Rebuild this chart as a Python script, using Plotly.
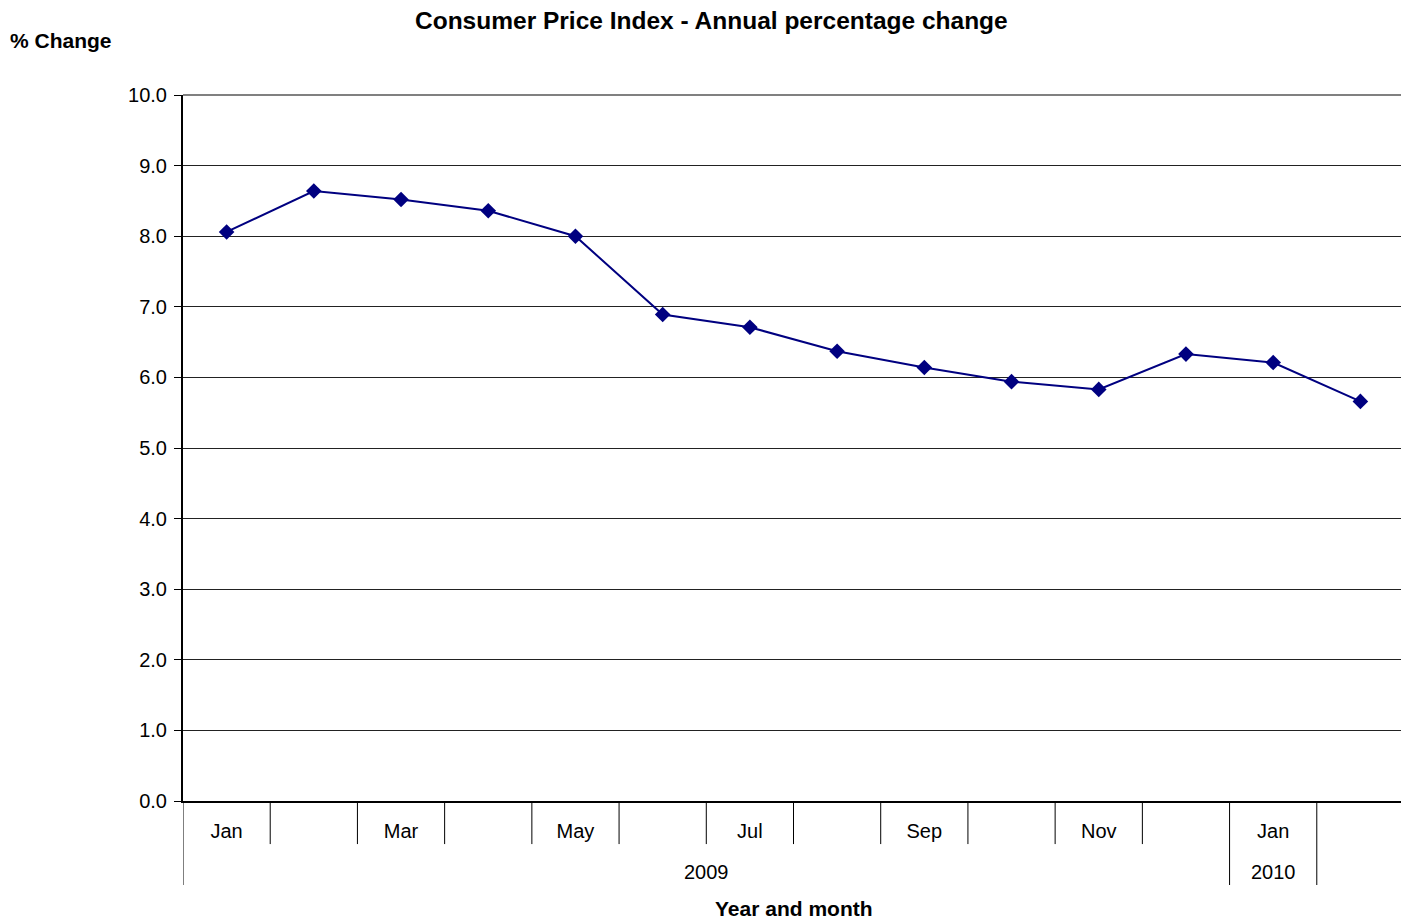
import plotly.graph_objects as go

months = ["Jan", "", "Mar", "", "May", "", "Jul", "", "Sep", "", "Nov", "", "Jan", ""]
full_months = ["Jan 2009", "Feb 2009", "Mar 2009", "Apr 2009", "May 2009", "Jun 2009", "Jul 2009",
               "Aug 2009", "Sep 2009", "Oct 2009", "Nov 2009", "Dec 2009", "Jan 2010", "Feb 2010"]
cpi_change = [8.06, 8.64, 8.52, 8.36, 8.00, 6.89, 6.71, 6.37, 6.14, 5.94, 5.83, 6.33, 6.21, 5.66]
y_ticks = [0, 1, 2, 3, 4, 5, 6, 7, 8, 9, 10]
year_groups = [("2009", 0, 11), ("2010", 12, 12)]
long_dividers = [0, 12, 13, 14]

x_idx = list(range(len(cpi_change)))
FONT = "Liberation Sans, Arial, sans-serif"

fig = go.Figure()
fig.add_trace(go.Scatter(
    x=x_idx, y=cpi_change, mode="lines+markers",
    line=dict(color="#000080", width=2),
    marker=dict(symbol="diamond", size=12, color="#000080"),
    text=full_months, hoverinfo="text+y", showlegend=False,
))

shapes = []
n = len(cpi_change)
for k in range(n + 1):
    y_end = -0.119 if k in long_dividers else -0.061
    shapes.append(dict(type="line", xref="x", yref="paper", x0=k - 0.5, x1=k - 0.5,
                       y0=0, y1=y_end, line=dict(color="black", width=1)))
# top and right border (gray)
shapes.append(dict(type="line", xref="paper", yref="paper", x0=0, x1=1, y0=1, y1=1,
                   line=dict(color="#808080", width=2)))
shapes.append(dict(type="line", xref="paper", yref="paper", x0=1, x1=1, y0=0, y1=1,
                   line=dict(color="#808080", width=2)))

annotations = []
for label, a, b in year_groups:
    annotations.append(dict(text=label, xref="x", yref="paper", x=(a + b) / 2, y=-0.1006,
                            showarrow=False, font=dict(family=FONT, size=20, color="black"),
                            xanchor="center", yanchor="middle"))
annotations.append(dict(text="<b>% Change</b>", xref="paper", yref="paper", x=-0.1433, y=1.0765,
                        xanchor="left", yanchor="middle", showarrow=False,
                        font=dict(family=FONT, size=21, color="black")))
annotations.append(dict(text="<b>Year and month</b>", xref="paper", yref="paper", x=0.5, y=-0.1516,
                        xanchor="center", yanchor="middle", showarrow=False,
                        font=dict(family=FONT, size=21, color="black")))
annotations.append(dict(text="<b>Consumer Price Index - Annual percentage change</b>",
                        xref="paper", yref="paper", x=0.4330, y=1.1055,
                        xanchor="center", yanchor="middle", showarrow=False,
                        font=dict(family=FONT, size=24.5, color="black")))

fig.update_layout(
    width=1401, height=913,
    margin=dict(l=175, r=5, t=87, b=120),
    paper_bgcolor="white", plot_bgcolor="white",
    font=dict(family=FONT, size=20, color="black"),
    xaxis=dict(range=[-0.5, n - 0.5], tickvals=x_idx, ticktext=months, showgrid=False,
               zeroline=False, showline=True, linecolor="black", linewidth=2, ticks="",
               ticklabelstandoff=11, tickfont=dict(family=FONT, size=20, color="black")),
    yaxis=dict(range=[0, 10], tickvals=y_ticks, tickformat=".1f", showgrid=True,
               gridcolor="#222222", gridwidth=1, zeroline=False, showline=True,
               linecolor="black", linewidth=2, ticks="outside", ticklen=7, tickcolor="black",
               ticklabelstandoff=3, tickfont=dict(family=FONT, size=20, color="black")),
    shapes=shapes, annotations=annotations,
)

fig.write_html("out.html")
